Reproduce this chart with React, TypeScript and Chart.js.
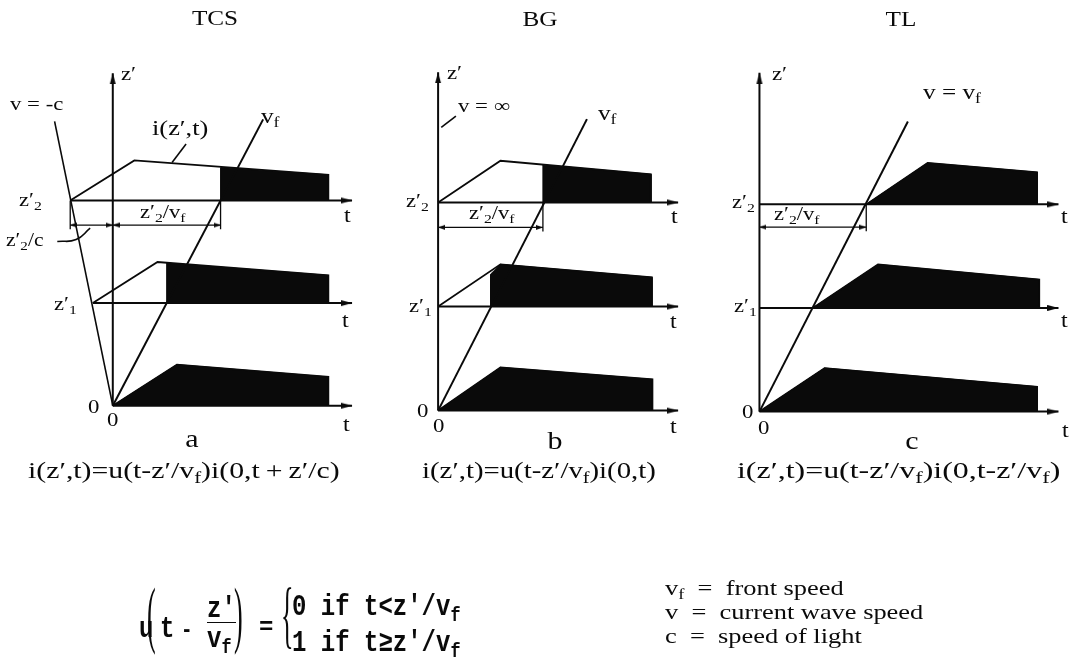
import React, { useEffect, useRef } from 'react';
import { Chart, registerables } from 'chart.js';

Chart.register(...registerables);

const W = 1070;
const H = 668;
const INK = '#0a0a0a';

// ---------- data (t in units of z'1/v_f, z' in units of z'1) ----------
const zLevels = [0, 1, 2];
const frontT = [0, 1, 2]; // t = z'/v_f

// TCS (panel a)
const tcsStartT = [0, -0.37, -0.79];
const tcsPeakT = [1.19, 0.83, 0.4];
const tcsPeakAmp = [0.4, 0.4, 0.39];
const tcsEndT = [4.0, 4.0, 4.0];
const tcsEndAmp = [0.28, 0.27, 0.25];
const tcsFrontAmp = [0, 0.39, 0.32];
const tcsAxisTopZ = 3.24;
const tcsAxisEndT = 4.44;
const tcsLightLineT = [-1.08, 0];
const tcsLightLineZ = [2.77, 0];
const tcsFrontLineT = [0, 2.79];
const tcsFrontLineZ = [0, 2.79];
const tcsDimT = [-0.79, 0, 2];
const tcsDimZ = 1.76;
const tcsPulseLeaderT = [1.36, 1.1];
const tcsPulseLeaderZ = [2.55, 2.37];
const tcsCLeaderT = [-1.03, -0.68, -0.42];
const tcsCLeaderZ = [1.6, 1.62, 1.73];

// BG (panel b)
const bgStartT = [0, 0, 0];
const bgPeakT = [1.19, 1.19, 1.19];
const bgPeakAmp = [0.415, 0.405, 0.4];
const bgEndT = [4.09, 4.08, 4.06];
const bgEndAmp = [0.3, 0.28, 0.27];
const bgFrontAmp = [0, 0.31, 0.36];
const bgAxisTopZ = 3.25;
const bgAxisEndT = 4.58;
const bgFrontLineT = [0, 2.84];
const bgFrontLineZ = [0, 2.8];
const bgDimT = [0, 2];
const bgDimZ = 1.76;
const bgInfLeaderT = [0.06, 0.34];
const bgInfLeaderZ = [2.72, 2.83];

// TL (panel c)
const tlStartT = [0, 1, 2];
const tlPeakT = [1.22, 2.22, 3.15];
const tlPeakAmp = [0.42, 0.42, 0.4];
const tlEndT = [5.2, 5.24, 5.2];
const tlEndAmp = [0.24, 0.275, 0.31];
const tlFrontAmp = [0, 0, 0];
const tlAxisTopZ = 3.27;
const tlAxisEndT = 5.6;
const tlFrontLineT = [0, 2.78];
const tlFrontLineZ = [0, 2.8];
const tlDimT = [0, 2];
const tlDimZ = 1.78;

// ---------- layout of each panel (page pixels of origin, pixels per unit) ----------
const frames: Record<string, { ox: number; oy: number; tu: number; zu: number }> = {
  a: { ox: 108, oy: 407, tu: 54.5, zu: 104.5 },
  b: { ox: 437, oy: 412, tu: 53, zu: 106 },
  c: { ox: 762, oy: 413, tu: 54, zu: 105.5 },
};

type Pt = { x: number; y: number };
const pts = (ts: number[], zs: number[]): Pt[] => ts.map((t, i) => ({ x: t, y: zs[i] }));

function makeArrow(len: number, wid: number) {
  const c = document.createElement('canvas');
  c.width = len * 2;
  c.height = wid + 2;
  const g = c.getContext('2d')!;
  g.fillStyle = INK;
  g.beginPath();
  g.moveTo(0, 1);
  g.lineTo(len, c.height / 2);
  g.lineTo(0, c.height - 1);
  g.closePath();
  g.fill();
  return c;
}

type PanelSpec = {
  startT: number[];
  peakT: number[];
  peakAmp: number[];
  endT: number[];
  endAmp: number[];
  frontAmp: number[];
  axisTopZ: number;
  axisEndT: number;
  frontLineT: number[];
  frontLineZ: number[];
  dimT: number[];
  dimZ: number;
  extras: { t: number[]; z: number[]; tension?: number }[];
};

function buildPanel(id: string, p: PanelSpec, arrow: HTMLCanvasElement, small: HTMLCanvasElement) {
  const top: any[] = [];
  const fills: any[] = [];
  const L = (data: Pt[], extra: any = {}) => ({
    type: 'line',
    data,
    xAxisID: 'x' + id,
    yAxisID: 'y' + id,
    borderColor: INK,
    backgroundColor: INK,
    borderWidth: 2,
    pointRadius: 0,
    tension: 0,
    fill: false,
    ...extra,
  });
  // z' axis
  top.push(L([{ x: 0, y: 0 }, { x: 0, y: p.axisTopZ }], { pointStyle: arrow, pointRadius: [0, 1], pointRotation: [0, -90] }));
  // t axes
  zLevels.forEach((z, i) => {
    const s = Math.min(p.startT[i], 0);
    top.push(L([{ x: s, y: z }, { x: p.axisEndT, y: z }], { pointStyle: arrow, pointRadius: [0, 1], pointRotation: [0, 0] }));
  });
  // front line v_f
  top.push(L(pts(p.frontLineT, p.frontLineZ)));
  // extra lines / leaders
  p.extras.forEach((e) => top.push(L(pts(e.t, e.z), { tension: e.tension || 0, borderWidth: 1.6 })));
  // dimension lines
  for (let k = 0; k + 1 < p.dimT.length; k++) {
    top.push(
      L([{ x: p.dimT[k], y: p.dimZ }, { x: p.dimT[k + 1], y: p.dimZ }], {
        borderWidth: 1.3,
        pointStyle: small,
        pointRadius: [1, 1],
        pointRotation: [180, 0],
      })
    );
  }
  p.dimT.forEach((t) => {
    if (t !== 0) top.push(L([{ x: t, y: 2 }, { x: t, y: p.dimZ - 0.04 }], { borderWidth: 1.3 }));
  });
  // pulses
  zLevels.forEach((z, i) => {
    const s = p.startT[i];
    const outline = [
      { x: s, y: z },
      { x: p.peakT[i], y: z + p.peakAmp[i] },
      { x: p.endT[i], y: z + p.endAmp[i] },
      { x: p.endT[i], y: z },
    ];
    top.push(L(outline, { borderWidth: 1.8 }));
    const f = frontT[i];
    let black: Pt[];
    if (f <= s) black = outline;
    else if (f < p.peakT[i])
      black = [
        { x: f, y: z },
        { x: f, y: z + p.frontAmp[i] },
        { x: p.peakT[i], y: z + p.peakAmp[i] },
        { x: p.endT[i], y: z + p.endAmp[i] },
        { x: p.endT[i], y: z },
      ];
    else
      black = [
        { x: f, y: z },
        { x: f, y: z + p.frontAmp[i] },
        { x: p.endT[i], y: z + p.endAmp[i] },
        { x: p.endT[i], y: z },
      ];
    fills.push(L(black, { fill: 'shape', borderWidth: 1 }));
  });
  return { top, fills };
}

const SERIF = '"Liberation Serif", "Times New Roman", serif';
const MONO = '"Liberation Mono", "Courier New", monospace';

function Sub({ children }: { children: React.ReactNode }) {
  return <span style={{ fontSize: '0.7em', verticalAlign: '-0.28em' }}>{children}</span>;
}

function T(props: {
  x: number;
  y: number;
  s?: number;
  sx?: number;
  sy?: number;
  center?: boolean;
  mono?: boolean;
  bold?: boolean;
  children: React.ReactNode;
}) {
  const { x, y, s = 18, sx = 1.2, sy = 1, center = false, mono = false, bold = false, children } = props;
  const asc = mono ? 0.7665 : 0.8375;
  return (
    <div
      style={{
        position: 'absolute',
        left: x,
        top: y - asc * s,
        fontSize: s,
        lineHeight: `${s}px`,
        fontFamily: mono ? MONO : SERIF,
        fontWeight: bold ? 700 : 400,
        whiteSpace: 'pre',
        color: INK,
        transform: center ? `translateX(-50%) scale(${sx}, ${sy})` : `scale(${sx}, ${sy})`,
        transformOrigin: center ? `center ${asc * s}px` : `left ${asc * s}px`,
      }}
    >
      {children}
    </div>
  );
}

function Delim({ x, cy, h, ch }: { x: number; cy: number; h: number; ch: string }) {
  const s = 26;
  const k = h / (0.91 * s);
  return (
    <div
      style={{
        position: 'absolute',
        left: x,
        top: cy - 0.5 * s - 0.1 * k * s,
        fontSize: s,
        lineHeight: `${s}px`,
        fontFamily: SERIF,
        color: INK,
        transform: `scaleY(${k})`,
        transformOrigin: 'center center',
      }}
    >
      {ch}
    </div>
  );
}

const zp = (n: string) => (
  <>
    z′<Sub>{n}</Sub>
  </>
);

export default function App() {
  const ref = useRef<HTMLCanvasElement>(null);

  useEffect(() => {
    const arrow = makeArrow(11, 6);
    const small = makeArrow(7, 5);
    const A = buildPanel(
      'a',
      {
        startT: tcsStartT,
        peakT: tcsPeakT,
        peakAmp: tcsPeakAmp,
        endT: tcsEndT,
        endAmp: tcsEndAmp,
        frontAmp: tcsFrontAmp,
        axisTopZ: tcsAxisTopZ,
        axisEndT: tcsAxisEndT,
        frontLineT: tcsFrontLineT,
        frontLineZ: tcsFrontLineZ,
        dimT: tcsDimT,
        dimZ: tcsDimZ,
        extras: [
          { t: tcsLightLineT, z: tcsLightLineZ },
          { t: tcsPulseLeaderT, z: tcsPulseLeaderZ },
          { t: tcsCLeaderT, z: tcsCLeaderZ, tension: 0.5 },
        ],
      },
      arrow,
      small
    );
    const B = buildPanel(
      'b',
      {
        startT: bgStartT,
        peakT: bgPeakT,
        peakAmp: bgPeakAmp,
        endT: bgEndT,
        endAmp: bgEndAmp,
        frontAmp: bgFrontAmp,
        axisTopZ: bgAxisTopZ,
        axisEndT: bgAxisEndT,
        frontLineT: bgFrontLineT,
        frontLineZ: bgFrontLineZ,
        dimT: bgDimT,
        dimZ: bgDimZ,
        extras: [{ t: bgInfLeaderT, z: bgInfLeaderZ }],
      },
      arrow,
      small
    );
    const C = buildPanel(
      'c',
      {
        startT: tlStartT,
        peakT: tlPeakT,
        peakAmp: tlPeakAmp,
        endT: tlEndT,
        endAmp: tlEndAmp,
        frontAmp: tlFrontAmp,
        axisTopZ: tlAxisTopZ,
        axisEndT: tlAxisEndT,
        frontLineT: tlFrontLineT,
        frontLineZ: tlFrontLineZ,
        dimT: tlDimT,
        dimZ: tlDimZ,
        extras: [],
      },
      arrow,
      small
    );
    const datasets = [...A.top, ...B.top, ...C.top, ...A.fills, ...B.fills, ...C.fills];

    const scales: any = {};
    Object.keys(frames).forEach((id) => {
      const f = frames[id];
      const common = { type: 'linear', display: false, bounds: 'data', grid: { display: false }, ticks: { display: false } };
      scales['x' + id] = { ...common, axis: 'x', position: 'bottom', min: -f.ox / f.tu, max: (W - f.ox) / f.tu };
      scales['y' + id] = { ...common, axis: 'y', position: 'left', min: (f.oy - H) / f.zu, max: f.oy / f.zu };
    });

    const chart = new Chart(ref.current as HTMLCanvasElement, {
      type: 'line',
      data: { datasets },
      options: {
        animation: false,
        responsive: false,
        events: [],
        layout: { padding: 0 },
        plugins: { legend: { display: false }, tooltip: { enabled: false }, title: { display: false } },
        scales,
      },
    } as any);
    return () => chart.destroy();
  }, []);

  return (
    <div style={{ position: 'fixed', left: 0, top: 0, width: W, height: H, background: '#fff', overflow: 'hidden' }}>
      <canvas ref={ref} width={W} height={H} style={{ position: 'absolute', left: 0, top: 0, width: W, height: H }} />

      {/* panel a */}
      <T x={215} y={26} s={21} center>TCS</T>
      <T x={121} y={80} s={19}>z′</T>
      <T x={10} y={110} s={19}>v = -c</T>
      <T x={152} y={135} s={22}>i(z′,t)</T>
      <T x={261} y={124} s={21}>v<Sub>f</Sub></T>
      <T x={19} y={206} s={18} sx={1.25}>{zp('2')}</T>
      <T x={344} y={222} s={20}>t</T>
      <T x={140} y={218} s={18} sx={1.25}>{zp('2')}/v<Sub>f</Sub></T>
      <T x={6} y={246} s={18} sx={1.2}>{zp('2')}/c</T>
      <T x={54} y={310} s={18} sx={1.25}>{zp('1')}</T>
      <T x={342} y={327} s={20}>t</T>
      <T x={88} y={413} s={19}>0</T>
      <T x={107} y={426} s={19}>0</T>
      <T x={343} y={431} s={20}>t</T>
      <T x={192} y={447} s={25} center>a</T>

      {/* panel b */}
      <T x={540} y={27} s={21} center>BG</T>
      <T x={447} y={79} s={19}>z′</T>
      <T x={458} y={112} s={19}>v = ∞</T>
      <T x={598} y={121} s={21}>v<Sub>f</Sub></T>
      <T x={406} y={207} s={18} sx={1.25}>{zp('2')}</T>
      <T x={469} y={219} s={18} sx={1.25}>{zp('2')}/v<Sub>f</Sub></T>
      <T x={671} y={223} s={20}>t</T>
      <T x={409} y={312} s={18} sx={1.25}>{zp('1')}</T>
      <T x={670} y={328} s={20}>t</T>
      <T x={417} y={417} s={19}>0</T>
      <T x={433} y={432} s={19}>0</T>
      <T x={670} y={433} s={20}>t</T>
      <T x={555} y={449} s={25} center>b</T>

      {/* panel c */}
      <T x={901} y={27} s={21} center>TL</T>
      <T x={772} y={80} s={19}>z′</T>
      <T x={923} y={100} s={21}>v = v<Sub>f</Sub></T>
      <T x={732} y={208} s={18} sx={1.25}>{zp('2')}</T>
      <T x={774} y={220} s={18} sx={1.25}>{zp('2')}/v<Sub>f</Sub></T>
      <T x={1061} y={223} s={20}>t</T>
      <T x={734} y={312} s={18} sx={1.25}>{zp('1')}</T>
      <T x={1061} y={327} s={20}>t</T>
      <T x={742} y={418} s={19}>0</T>
      <T x={758} y={434} s={19}>0</T>
      <T x={1062} y={437} s={20}>t</T>
      <T x={912} y={449} s={25} center>c</T>

      {/* formulas */}
      <T x={28} y={478} s={24} sx={1.24}>i(z′,t)=u(t-z′/v<Sub>f</Sub>)i(0,t{'\u2009'}+{'\u2009'}z′/c)</T>
      <T x={422} y={478} s={24} sx={1.2}>i(z′,t)=u(t-z′/v<Sub>f</Sub>)i(0,t)</T>
      <T x={737} y={478} s={24} sx={1.33}>i(z′,t)=u(t-z′/v<Sub>f</Sub>)i(0,t-z′/v<Sub>f</Sub>)</T>

      {/* step function definition */}
      <T x={139} y={637} s={24} mono bold sx={1} sy={1.2}>u</T>
      <Delim x={147} cy={623} h={67} ch="(" />
      <T x={160} y={637} s={24} mono bold sx={1} sy={1.2}>t</T>
      <T x={181} y={637} s={24} mono bold sx={0.8} sy={1}>-</T>
      <T x={207} y={617} s={24} mono bold sx={1} sy={1.2}>z'</T>
      <div style={{ position: 'absolute', left: 207, top: 622, width: 29, borderTop: `1.5px solid ${INK}` }} />
      <T x={207} y={647} s={24} mono bold sx={1} sy={1.2}>v<Sub>f</Sub></T>
      <Delim x={234} cy={623} h={67} ch=")" />
      <T x={259} y={634} s={24} mono bold sx={1}>=</T>
      <Delim x={281} cy={623} h={67} ch="{" />
      <T x={292} y={615} s={24} mono bold sx={1} sy={1.2}>0 if t&lt;z'/v<Sub>f</Sub></T>
      <T x={292} y={651} s={24} mono bold sx={1} sy={1.2}>1 if t≥z'/v<Sub>f</Sub></T>

      {/* legend of symbols */}
      <T x={665} y={595} s={22}>v<Sub>f</Sub>  =  front speed</T>
      <T x={665} y={619} s={22}>v  =  current wave speed</T>
      <T x={665} y={643} s={22}>c  =  speed of light</T>
    </div>
  );
}
